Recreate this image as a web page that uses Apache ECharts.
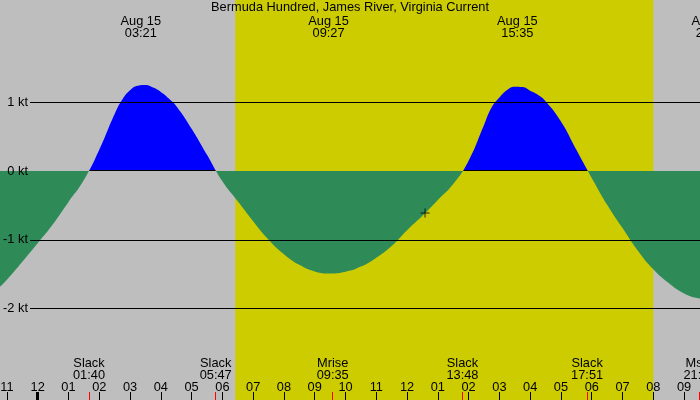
<!DOCTYPE html>
<html>
<head>
<meta charset="utf-8">
<title>Bermuda Hundred, James River, Virginia Current</title>
<script src="https://cdn.jsdelivr.net/npm/echarts@6/dist/echarts.min.js"></script>
<style>
    html, body { margin: 0; padding: 0; background: #bebebe; }
    #main { width: 700px; height: 400px; }
</style>
</head>
<body>
<div id="main"></div>
<script>
// current speed: hours from midnight Aug 15, knots (+ flood, - ebb)
// half-hour steps, quarter hours around the flood peaks
var curveHours = [-1.5, -1.0, -0.5, 0.0, 0.5, 1.0, 1.5,
    2.0, 2.5, 2.75, 3.0, 3.25, 3.5, 3.75, 4.0, 4.25, 4.5,
    5.0, 5.5, 6.0, 6.5, 7.0, 7.5, 8.0, 8.5, 9.0, 9.5,
    10.0, 10.5, 11.0, 11.5, 12.0, 12.5, 13.0, 13.5,
    14.0, 14.5, 14.75, 15.0, 15.25, 15.5, 15.75, 16.0, 16.25, 16.5,
    17.0, 17.5, 18.0, 18.5, 19.0, 19.5, 20.0, 20.5, 21.0, 21.5, 22.0];
var curveKnots = [-1.80, -1.58, -1.32, -1.05, -0.77, -0.45, -0.13,
    0.31, 0.83, 1.04, 1.175, 1.24, 1.252, 1.213, 1.15, 1.058, 0.945,
    0.615, 0.235, -0.15, -0.44, -0.73, -1.00, -1.21, -1.365, -1.46, -1.49,
    -1.465, -1.39, -1.26, -1.09, -0.86, -0.65, -0.42, -0.19,
    0.15, 0.67, 0.926, 1.07, 1.18, 1.227, 1.222, 1.169, 1.11, 1.015,
    0.72, 0.31, -0.10, -0.49, -0.83, -1.16, -1.43, -1.63, -1.78, -1.855, -1.89];

// max flood / max ebb times along the top
var peakDay = 'Aug 15';
var peakTimes = ['03:21', '09:27', '15:35', '21:54'];

// slack water and moon events along the bottom
var eventNames = ['Slack', 'Slack', 'Mrise', 'Slack', 'Slack', 'Mset'];
var eventTimes = ['01:40', '05:47', '09:35', '13:48', '17:51', '21:30'];

// hour ticks (hours from midnight) and their clock labels
var hourTicks = [-1, 0, 1, 2, 3, 4, 5, 6, 7, 8, 9, 10, 11, 12, 13, 14, 15, 16, 17, 18, 19, 20, 21];
var hourLabels = ['11', '12', '01', '02', '03', '04', '05', '06', '07', '08', '09', '10',
    '11', '12', '01', '02', '03', '04', '05', '06', '07', '08', '09'];
var midnightTicks = [0];

// speed gridlines
var speedTicks = [1, 0, -1, -2];

var sunrise = '06:25';
var sunset = '20:00';

// current time marker
var nowTime = '12:35';
var nowKnots = -0.61;

// visible range of the picture
var viewStart = -1.2248, viewEnd = 21.517;     // hours at left / right edge
var knotsMin = -3.3309, knotsMax = 2.4873;

var FONT = 'Liberation Sans, Arial, Helvetica, sans-serif';
var EXTRA = 60;   // grid runs past the right edge so the cut-off labels still show
var xMaxWide = viewEnd + EXTRA * (viewEnd - viewStart) / 700;

function toHours(t) {
    var p = t.split(':');
    return +p[0] + p[1] / 60;
}
var peakHours = peakTimes.map(toHours);
var eventHours = eventTimes.map(toHours);

// find the text that belongs to a tick value
function textAt(hours, texts, v) {
    for (var i = 0; i < hours.length; i++) {
        if (Math.abs(hours[i] - v) < 1e-6) return texts[i];
    }
    return '';
}

var txt = { color: '#000', fontFamily: FONT, fontSize: 12.8, lineHeight: 12 };

function xAxisBase(extra) {
    return Object.assign({
        type: 'value', gridIndex: 0, position: 'bottom',
        min: viewStart, max: xMaxWide,
        axisLine: { show: false, onZero: false }, splitLine: { show: false },
        axisTick: { show: false }, axisLabel: { show: false }, z: 10
    }, extra);
}

var chart = echarts.init(document.getElementById('main'));

var option = {
    animation: false,
    title: {
        text: 'Bermuda Hundred, James River, Virginia Current',
        left: 'center', top: 1.8, padding: 0,
        textStyle: Object.assign({ fontWeight: 'normal' }, txt)
    },
    grid: [
        { left: 0, right: -EXTRA, top: 0, bottom: 0, show: true, backgroundColor: '#bebebe',
          borderWidth: 0, outerBoundsMode: 'none' },
        { left: 30, right: 0, top: 0, bottom: 0, outerBoundsMode: 'none' }
    ],
    xAxis: [
        // hours
        xAxisBase({
            axisTick: { show: true, inside: true, length: 8, customValues: hourTicks,
                        lineStyle: { color: '#000', width: 1 } },
            axisLabel: Object.assign({ show: true, inside: true, margin: 6.6, customValues: hourTicks,
                        formatter: function (v) { return textAt(hourTicks, hourLabels, v); } }, txt)
        }),
        // slack / moon events
        xAxisBase({
            axisTick: { show: true, inside: true, length: 8, customValues: eventHours,
                        lineStyle: { color: '#ff0000', width: 1 } },
            axisLabel: Object.assign({ show: true, inside: true, margin: 18.6, customValues: eventHours,
                        formatter: function (v) {
                            return textAt(eventHours, eventNames, v) + '\n' + textAt(eventHours, eventTimes, v);
                        } }, txt)
        }),
        // midnight
        xAxisBase({
            axisTick: { show: true, inside: true, length: 8, customValues: midnightTicks,
                        lineStyle: { color: '#000', width: 3 } }
        }),
        // max current times
        xAxisBase({
            position: 'top',
            axisLabel: Object.assign({ show: true, inside: true, margin: 15.2, customValues: peakHours,
                        formatter: function (v) { return peakDay + '\n' + textAt(peakHours, peakTimes, v); } }, txt)
        }),
        { type: 'value', gridIndex: 1, show: false, min: 0, max: 1, axisLine: { onZero: false } }
    ],
    yAxis: [
        { type: 'value', gridIndex: 0, show: false, min: knotsMin, max: knotsMax, axisLine: { onZero: false } },
        {
            type: 'value', gridIndex: 1, position: 'left', min: knotsMin, max: knotsMax, z: 10,
            axisLine: { show: false, onZero: false }, axisTick: { show: false }, splitLine: { show: false },
            axisLabel: Object.assign({ margin: 2, customValues: speedTicks,
                        formatter: function (v) { return v + ' kt'; } }, txt)
        }
    ],
    // ebb green, flood blue, with a one pixel black base under the flood
    visualMap: {
        type: 'piecewise', show: false, seriesIndex: 2, dimension: 1,
        pieces: [
            { lt: 0, color: '#2e8b57' },
            { gte: 0, lt: 0.0145, color: '#000000' },
            { gte: 0.0145, color: '#0000ff' }
        ]
    },
    series: [
        {
            name: 'daylight', type: 'line', xAxisIndex: 0, yAxisIndex: 0, data: [], silent: true, z: 1,
            markArea: {
                silent: true,
                itemStyle: { color: '#cccc00', opacity: 1 },
                data: [[{ xAxis: toHours(sunrise) }, { xAxis: toHours(sunset) }]]
            }
        },
        {
            name: 'gridlines', type: 'line', xAxisIndex: 4, yAxisIndex: 1, data: [], silent: true, z: 2,
            markLine: {
                silent: true, symbol: ['none', 'none'], label: { show: false },
                lineStyle: { color: '#000', width: 1, type: 'solid' },
                data: speedTicks.filter(function (v) { return v !== 0; })
                    .map(function (v) { return { yAxis: v }; })
            }
        },
        {
            name: 'current', type: 'line', xAxisIndex: 0, yAxisIndex: 0, z: 3,
            smooth: 0.5, showSymbol: false, silent: true,
            lineStyle: { width: 0 },
            areaStyle: { opacity: 1 },
            data: curveHours.map(function (h, i) { return [h, curveKnots[i]]; })
        },
        {
            name: 'now', type: 'scatter', xAxisIndex: 0, yAxisIndex: 0, z: 4, silent: true,
            symbol: 'path://M0 4H9V5H0Z M4 0H5V9H4Z', symbolSize: 9,
            itemStyle: { color: '#000' },
            data: [[toHours(nowTime), nowKnots]]
        }
    ]
};

chart.setOption(option);
</script>
</body>
</html>
